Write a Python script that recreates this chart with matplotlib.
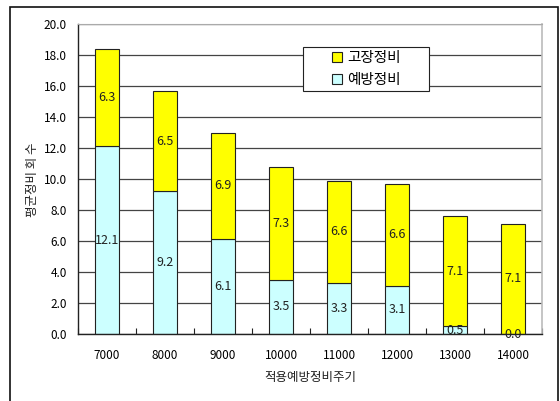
import matplotlib
matplotlib.use("Agg")
import matplotlib.pyplot as plt
from matplotlib.patches import Rectangle, Patch
import numpy as np

plt.rcParams['font.family'] = ['Noto Sans CJK KR', 'DejaVu Sans']

cycles = ['7000', '8000', '9000', '10000', '11000', '12000', '13000', '14000']
preventive = [12.1, 9.2, 6.1, 3.5, 3.3, 3.1, 0.5, 0.0]
breakdown = [6.3, 6.5, 6.9, 7.3, 6.6, 6.6, 7.1, 7.1]
yticks = [0, 2, 4, 6, 8, 10, 12, 14, 16, 18, 20]

yellow = '#FFFF00'
cyan = '#CCFFFF'
ink = '#222222'

fig = plt.figure(figsize=(5.6, 4.01), dpi=100)
ax = fig.add_axes([78/560, 1-334/401, 464/560, 310/401])

x = np.arange(len(cycles))
w = 0.4
ax.bar(x, preventive, w, color=cyan, edgecolor=ink, linewidth=0.8, zorder=3)
ax.bar(x, breakdown, w, bottom=preventive, color=yellow, edgecolor=ink,
       linewidth=0.8, zorder=3)

for i in range(len(cycles)):
    ax.text(x[i], preventive[i] / 2, f'{preventive[i]:.1f}', ha='center', va='center',
            fontsize=9, color=ink, zorder=4)
    ax.text(x[i], preventive[i] + breakdown[i] / 2, f'{breakdown[i]:.1f}', ha='center',
            va='center', fontsize=9, color=ink, zorder=4)

ax.set_xlim(-0.5, len(cycles) - 0.5)
ax.set_ylim(0, 20)
ax.set_yticks(yticks)
ax.set_yticklabels([f'{v:.1f}' for v in yticks], fontsize=8.5)
ax.yaxis.grid(True, color='#444444', linewidth=0.9, zorder=0)
ax.tick_params(axis='y', length=0, pad=8)

ax.set_xticks(x)
ax.set_xticklabels(cycles, fontsize=8.5)
ax.set_xticks(np.arange(len(cycles) + 1) - 0.5, minor=True)
ax.tick_params(axis='x', which='major', length=0, pad=11)
ax.tick_params(axis='x', which='minor', direction='in', length=4, width=0.8, color=ink)

for side in ['left', 'bottom']:
    ax.spines[side].set_color(ink)
    ax.spines[side].set_linewidth(1.0)
ax.spines['top'].set_color('#aaaaaa')
ax.spines['right'].set_color('#bbbbbb')
ax.spines['right'].set_linewidth(1.2)
ax.spines['bottom'].set_zorder(5)

ax.set_xlabel('적용예방정비주기', fontsize=9, labelpad=6, color=ink)
ax.set_ylabel('평균정비 회 수', fontsize=9, color=ink)
ax.yaxis.set_label_coords(-39/464, (334-180)/310)

# legend box with white background over the grid
fig.patches.append(Rectangle((303/560, 1-91/401), 126/560, 44/401, transform=fig.transFigure,
                             facecolor='white', edgecolor=ink, linewidth=0.8, zorder=5))
handles = [Patch(facecolor=yellow, edgecolor=ink, linewidth=0.8),
           Patch(facecolor=cyan, edgecolor=ink, linewidth=0.8)]
leg = fig.legend(handles, ['고장정비', '예방정비'], loc='center',
                 bbox_to_anchor=(366/560, 1-69/401), fontsize=10.5,
                 frameon=False, handlelength=0.7, handleheight=0.7, handletextpad=0.35,
                 borderpad=0.2, labelspacing=0.55)
leg.set_zorder(6)

# outer chart frame
fig.patches.append(Rectangle((10/560, -0.05), 548/560, 1.05 - 7/401, transform=fig.transFigure,
                             fill=False, edgecolor='#111111', linewidth=1.2))

fig.savefig('out.png', dpi=100)
